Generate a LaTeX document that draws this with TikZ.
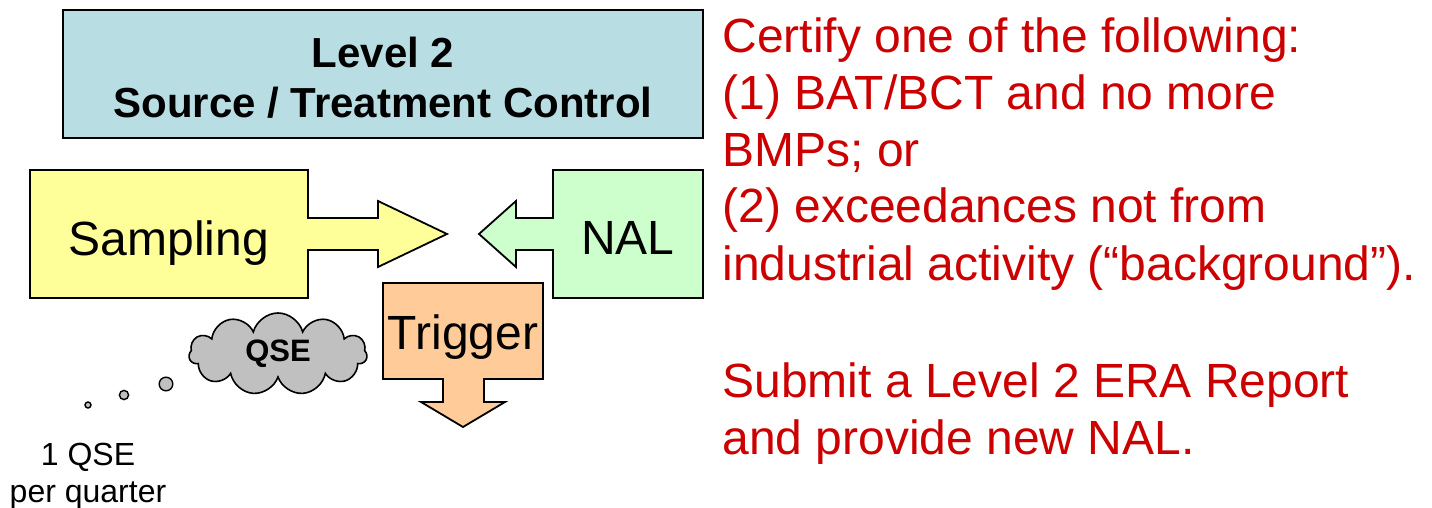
\documentclass[tikz,border=0pt]{standalone}
\usepackage{fontspec}
\setmainfont{Liberation Sans}
\usetikzlibrary{shapes.symbols}
\definecolor{headblue}{HTML}{B8DEE3}
\definecolor{sampleyellow}{HTML}{FFFF99}
\definecolor{nalgreen}{HTML}{CCFFCC}
\definecolor{triggerorange}{HTML}{FFCC99}
\definecolor{cloudgray}{HTML}{C0C0C0}
\definecolor{certred}{HTML}{CC0000}
\tikzset{callout/.style={draw,line width=0.9pt,line join=miter}}
\tikzset{bigtext/.style={font=\fontsize{24}{28.5}\selectfont}}
\tikzset{bubble/.style={draw,line width=0.7pt,fill=cloudgray}}

\begin{document}
\begin{tikzpicture}[x=0.5pt,y=-0.5pt]
  \useasboundingbox (0,0) rectangle (1432,508);
  % heading
  \draw[line width=0.9pt,fill=headblue] (63,10) rectangle (703,138);
  \node[align=center,font=\bfseries\fontsize{21}{25}\selectfont] (level) at (383,78) {Level 2\\Source / Treatment Control};
  % sampling callout
  \draw[callout,fill=sampleyellow] (30,170) -- (308,170) -- (308,218) -- (378,218) -- (378,201)
    -- (447,234) -- (378,267) -- (378,250) -- (308,250) -- (308,298) -- (30,298) -- cycle;
  \node[bigtext] (sampling) at (169,243) {Sampling};
  % NAL callout
  \draw[callout,fill=nalgreen] (703,170) -- (553,170) -- (553,218) -- (516,218) -- (516,201)
    -- (479,234) -- (516,267) -- (516,250) -- (553,250) -- (553,298) -- (703,298) -- cycle;
  \node[bigtext] (nal) at (628,238) {NAL};
  % trigger callout
  \draw[callout,fill=triggerorange] (383,283) -- (543,283) -- (543,379) -- (484,379) -- (484,402)
    -- (505,402) -- (463,427) -- (421,402) -- (443,402) -- (443,379) -- (383,379) -- cycle;
  \node[bigtext] (trigger) at (463,337) {Trigger};
  % thought cloud
  \node[cloud,cloud puffs=11,aspect=2.2,draw,line width=0.8pt,fill=cloudgray,minimum width=89pt,
        minimum height=41pt,inner sep=0pt,font=\bfseries\fontsize{15.5}{18}\selectfont] (qse) at (278,354) {QSE};
  \draw[bubble] (88,405) circle[radius=1.5pt];
  \draw[bubble] (124,395) circle[radius=2.3pt];
  \draw[bubble] (166,384) circle[radius=3.4pt];
  \node[align=center,font=\fontsize{16}{18.5}\selectfont] (freq) at (88,476) {1 QSE\\per quarter};
  % certification text
  \node[bigtext,text=certred,align=left,anchor=base west,inner sep=0pt] (certify) at (722,280)
    {Certify one of the following:\\(1) BAT/BCT and no more\\BMPs; or\\(2) exceedances not from\\industrial activity (“background”).};
  \node[bigtext,text=certred,align=left,anchor=base west,inner sep=0pt] (submit) at (722,454)
    {Submit a Level 2 ERA Report\\and provide new NAL.};
\end{tikzpicture}
\end{document}
